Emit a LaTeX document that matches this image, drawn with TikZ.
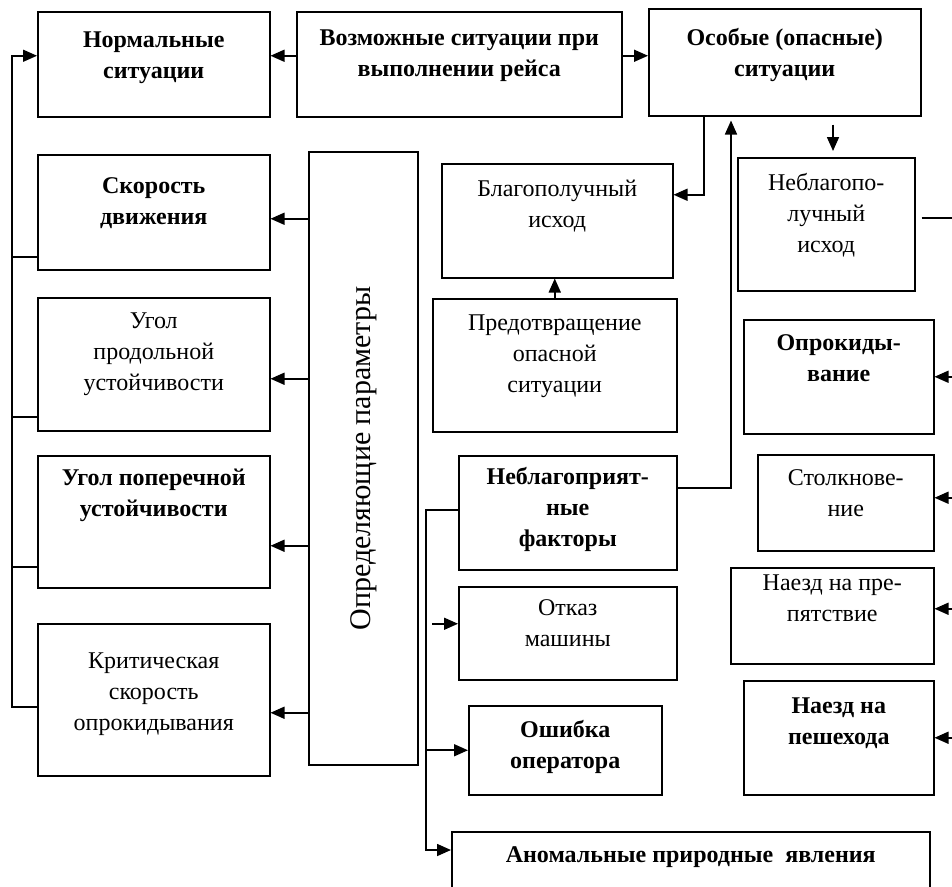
\documentclass[tikz,border=0pt]{standalone}
\usepackage{fontspec}
\setmainfont{Liberation Serif}
\usepackage{tikz}
\usetikzlibrary{calc}
\usetikzlibrary{arrows.meta}
\tikzstyle{blk}=[draw=black, line width=1.5pt, shape=rectangle, anchor=north west, inner xsep=3pt, inner ysep=0pt, align=center, font=\fontsize{24}{31}\selectfont]
\tikzstyle{blkb}=[blk, font=\fontsize{24}{31}\selectfont\bfseries]
\tikzstyle{arrline}=[-{Triangle[length=14pt, width=12pt]}, line width=1.6pt, color=black]
\tikzstyle{plainline}=[line width=1.6pt, color=black]

\begin{document}
\begin{tikzpicture}[x=1pt, y=-1pt]
\useasboundingbox (0,0) rectangle (952,886);

\node [blkb, minimum width=232, text height=67pt, text depth=38pt] (norm) at (37,11) {Нормальные\\ситуации};
\node [blkb, minimum width=325, text height=65pt, text depth=40pt] (vozm) at (296,11) {Возможные ситуации при\\выполнении рейса};
\node [blkb, minimum width=272, text height=68pt, text depth=39pt] (osob) at (648,8) {Особые (опасные)\\ситуации};
\node [blkb, minimum width=232, text height=70pt, text depth=45pt] (skor) at (37,154) {Скорость\\движения};
\node [blk, minimum width=232, text height=93pt, text depth=40pt] (ugpr) at (37,297) {Угол\\продольной\\устойчивости};
\node [blkb, minimum width=232, text height=61pt, text depth=71pt] (ugpop) at (37,455) {Угол поперечной\\устойчивости};
\node [blk, minimum width=232, text height=107pt, text depth=45pt] (krit) at (37,623) {Критическая\\скорость\\опрокидывания};
\node [blk, anchor=center, rotate=90, minimum width=613, minimum height=109, font=\fontsize{30}{36}\selectfont] (param) at (363.5,458.5) {Определяющие параметры};
\node [blk, minimum width=231, text height=64pt, text depth=50pt] (blag) at (441,163) {Благополучный\\исход};
\node [blk, minimum width=244, text height=94pt, text depth=39pt] (prev) at (432,298) {Предотвращение\\опасной\\ситуации};
\node [blk, minimum width=177, text height=95pt, text depth=38pt] (neblag) at (737,157) {Неблагопо-\\лучный\\исход};
\node [blkb, minimum width=190, text height=62pt, text depth=52pt] (opr) at (743,319) {Опрокиды-\\вание};
\node [blk, minimum width=176, text height=62pt, text depth=34pt] (stolk) at (757,454) {Столкнове-\\ние};
\node [blk, minimum width=203, text height=54pt, text depth=42pt] (prep) at (730,567) {Наезд на пре-\\пятствие};
\node [blkb, minimum width=190, text height=64pt, text depth=50pt] (pesh) at (743,680) {Наезд на\\пешехода};
\node [blkb, minimum width=218, text height=91pt, text depth=23pt] (unf) at (458,455) {Неблагоприят-\\ные\\факторы};
\node [blk, minimum width=218, text height=60pt, text depth=33pt] (otk) at (458,586) {Отказ\\машины};
\node [blkb, minimum width=193, text height=63pt, text depth=26pt] (err) at (468,705) {Ошибка\\оператора};
\node [blkb, minimum width=478, text height=31pt, text depth=39pt] (anom) at (451,831) {Аномальные природные\ \ явления};
\coordinate (rb) at (958,0);

% top row
\draw[arrline] ($(vozm.west)+(0,-8.5)$) -- ($(norm.east)+(0,-8.5)$);
\draw[arrline] ($(vozm.east)+(0,-8.5)$) -- ($(osob.west)+(0,-6.5)$);

% left trunk to normal situations
\draw[arrline] ($(krit.west)+(0,7)$) -| ($(norm.west)+(-25,-8.5)$) -- ($(norm.west)+(0,-8.5)$);
\draw[plainline] ($(skor.west)+(0,44.5)$) -- ++(-25,0);
\draw[plainline] ($(ugpr.west)+(0,52.5)$) -- ++(-25,0);
\draw[plainline] ($(ugpop.west)+(0,45)$) -- ++(-25,0);

% parameters
\draw[arrline] ($(param.north |- skor.east)+(0,6.5)$) -- ($(skor.east)+(0,6.5)$);
\draw[arrline] ($(param.north |- ugpr.east)+(0,14.5)$) -- ($(ugpr.east)+(0,14.5)$);
\draw[arrline] ($(param.north |- ugpop.east)+(0,24)$) -- ($(ugpop.east)+(0,24)$);
\draw[arrline] ($(param.north |- krit.east)+(0,13)$) -- ($(krit.east)+(0,13)$);

% outcomes
\draw[arrline] ($(osob.south west)+(56,0)$) |- ($(blag.east)+(0,-26)$);
\draw[arrline] ($(osob.south west)+(185,8)$) -- ($(neblag.north west)+(96,-6)$);
\draw[arrline] (prev.north) -- (prev.north |- blag.south);
\draw[arrline] ($(unf.north east)+(0,33)$) -| ($(osob.south west)+(83,4)$);
\draw[plainline] ($(neblag.east)+(6,-6.5)$) -- ($(neblag.east -| rb)+(0,-6.5)$);

% consequences
\draw[arrline] (opr.east -| rb) -- (opr.east);
\draw[arrline] ($(stolk.east -| rb)+(0,-5)$) -- ($(stolk.east)+(0,-5)$);
\draw[arrline] ($(prep.east -| rb)+(0,-7)$) -- ($(prep.east)+(0,-7)$);
\draw[arrline] (pesh.east -| rb) -- (pesh.east);

% factors
\draw[arrline] ($(unf.west)+(0,-3)$) -| ($(anom.north west)+(-25,19)$) -- ($(anom.north west)+(0,19)$);
\draw[arrline] ($(err.west)+(-42,0)$) -- (err.west);
\draw[arrline] ($(otk.west)+(-26,-9.5)$) -- ($(otk.west)+(0,-9.5)$);
\end{tikzpicture}
\end{document}
